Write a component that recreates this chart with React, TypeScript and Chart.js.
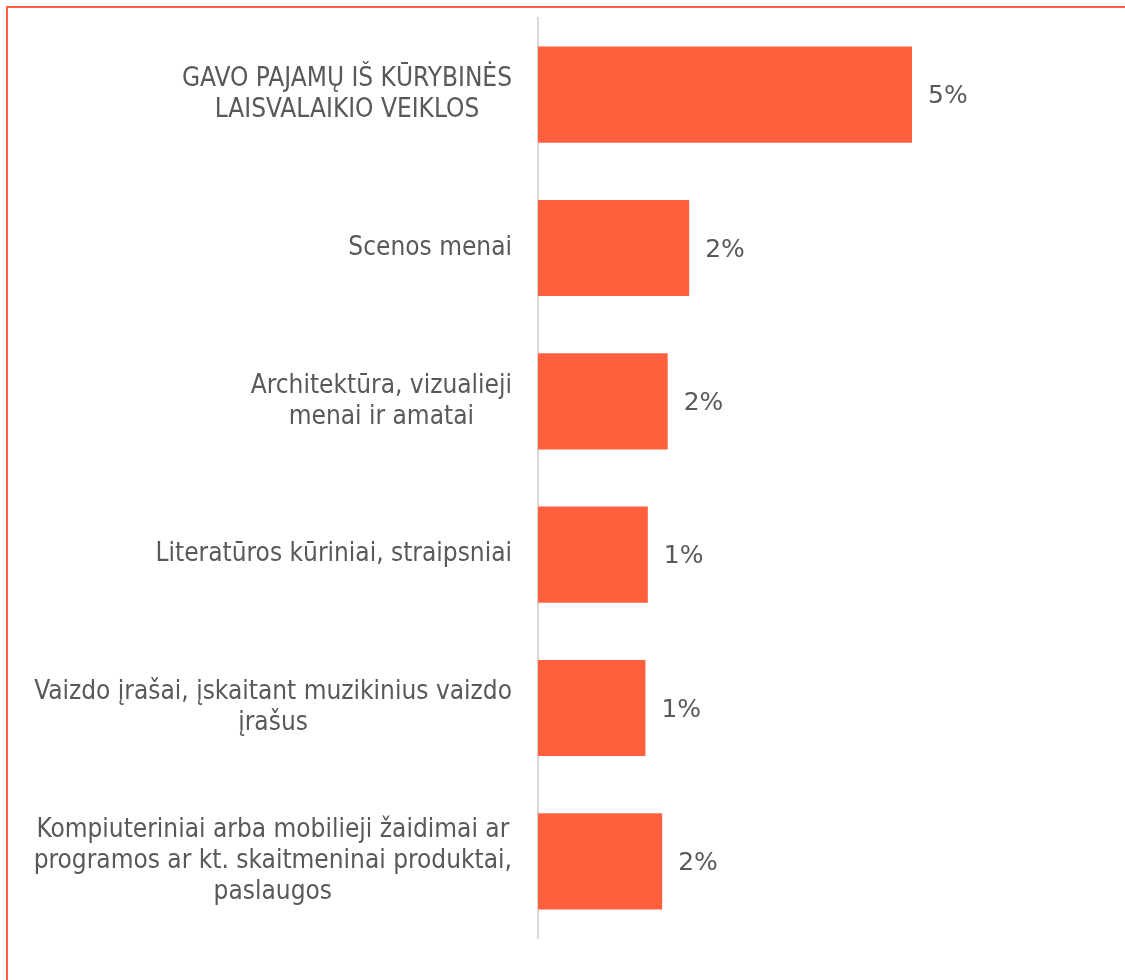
import React, { useEffect, useRef } from "react";
import { Chart, registerables } from "chart.js";

Chart.register(...registerables);

const categories: string[][] = [
  ["GAVO PAJAMŲ IŠ KŪRYBINĖS", "LAISVALAIKIO VEIKLOS"],
  ["Scenos menai"],
  ["Architektūra, vizualieji", "menai ir amatai"],
  ["Literatūros kūriniai, straipsniai"],
  ["Vaizdo įrašai, įskaitant muzikinius vaizdo", "įrašus"],
  ["Kompiuteriniai arba mobilieji žaidimai ar", "programos ar kt. skaitmeninai produktai,", "paslaugos"],
];
const values: number[] = [4.7, 1.9, 1.63, 1.38, 1.35, 1.56];

const FONT = '"DejaVu Sans Condensed", "DejaVu Sans", sans-serif';
const VALUE_FONT = '"DejaVu Sans", sans-serif';
const TEXT_COLOR = "#595959";
const BAR_COLOR = "#FF5F3C";

const labelPlugin = {
  id: "customLabels",
  afterDraw(chart: any) {
    const ctx = chart.ctx;
    const y = chart.scales.y;
    const meta = chart.getDatasetMeta(0);
    ctx.save();
    ctx.font = `26px ${FONT}`;
    ctx.fillStyle = TEXT_COLOR;
    ctx.textBaseline = "middle";
    const lh = 31;
    categories.forEach((lines, i) => {
      const cy = y.getPixelForTick(i);
      let maxW = 0;
      lines.forEach((l) => (maxW = Math.max(maxW, ctx.measureText(l).width)));
      const cx = chart.chartArea.left - 26 - maxW / 2;
      ctx.textAlign = "center";
      lines.forEach((l, j) => {
        ctx.fillText(l, cx, cy + (j - (lines.length - 1) / 2) * lh);
      });
    });
    ctx.font = `25px ${VALUE_FONT}`;
    meta.data.forEach((bar: any, i: number) => {
      ctx.textAlign = "left";
      ctx.fillText(Math.round(values[i]) + "%", bar.x + 16, bar.y + 2);
    });
    ctx.restore();
  },
};

export default function App() {
  const ref = useRef<HTMLCanvasElement>(null);
  useEffect(() => {
    if (!ref.current) return;
    const chart = new Chart(ref.current, {
      type: "bar",
      data: {
        labels: categories.map((c) => c.join(" ")),
        datasets: [
          {
            data: values,
            backgroundColor: BAR_COLOR,
            categoryPercentage: 1,
            barPercentage: 0.627,
          },
        ],
      },
      options: {
        indexAxis: "y",
        responsive: false,
        animation: false,
        layout: { padding: { top: 18, bottom: 42, right: 30, left: 0 } },
        plugins: { legend: { display: false }, tooltip: { enabled: false } },
        scales: {
          x: { display: false, min: 0, max: 7 },
          y: {
            grid: { display: false },
            ticks: { display: false },
            border: { display: true, color: "#D9D9D9", width: 2 },
            afterFit: (s: any) => {
              s.width = 538;
            },
          },
        },
      },
      plugins: [labelPlugin],
    });
    return () => chart.destroy();
  }, []);
  return (
    <div style={{ position: "absolute", left: 0, top: 0, width: 1125, height: 980, overflow: "hidden", background: "#fff" }}>
      <div
        style={{
          position: "absolute",
          left: 6,
          top: 6,
          width: 1200,
          height: 1200,
          border: "2px solid #FF5F3F",
          boxSizing: "border-box",
        }}
      />
      <canvas ref={ref} width={1125} height={980} style={{ position: "absolute", left: 0, top: 0 }} />
    </div>
  );
}
